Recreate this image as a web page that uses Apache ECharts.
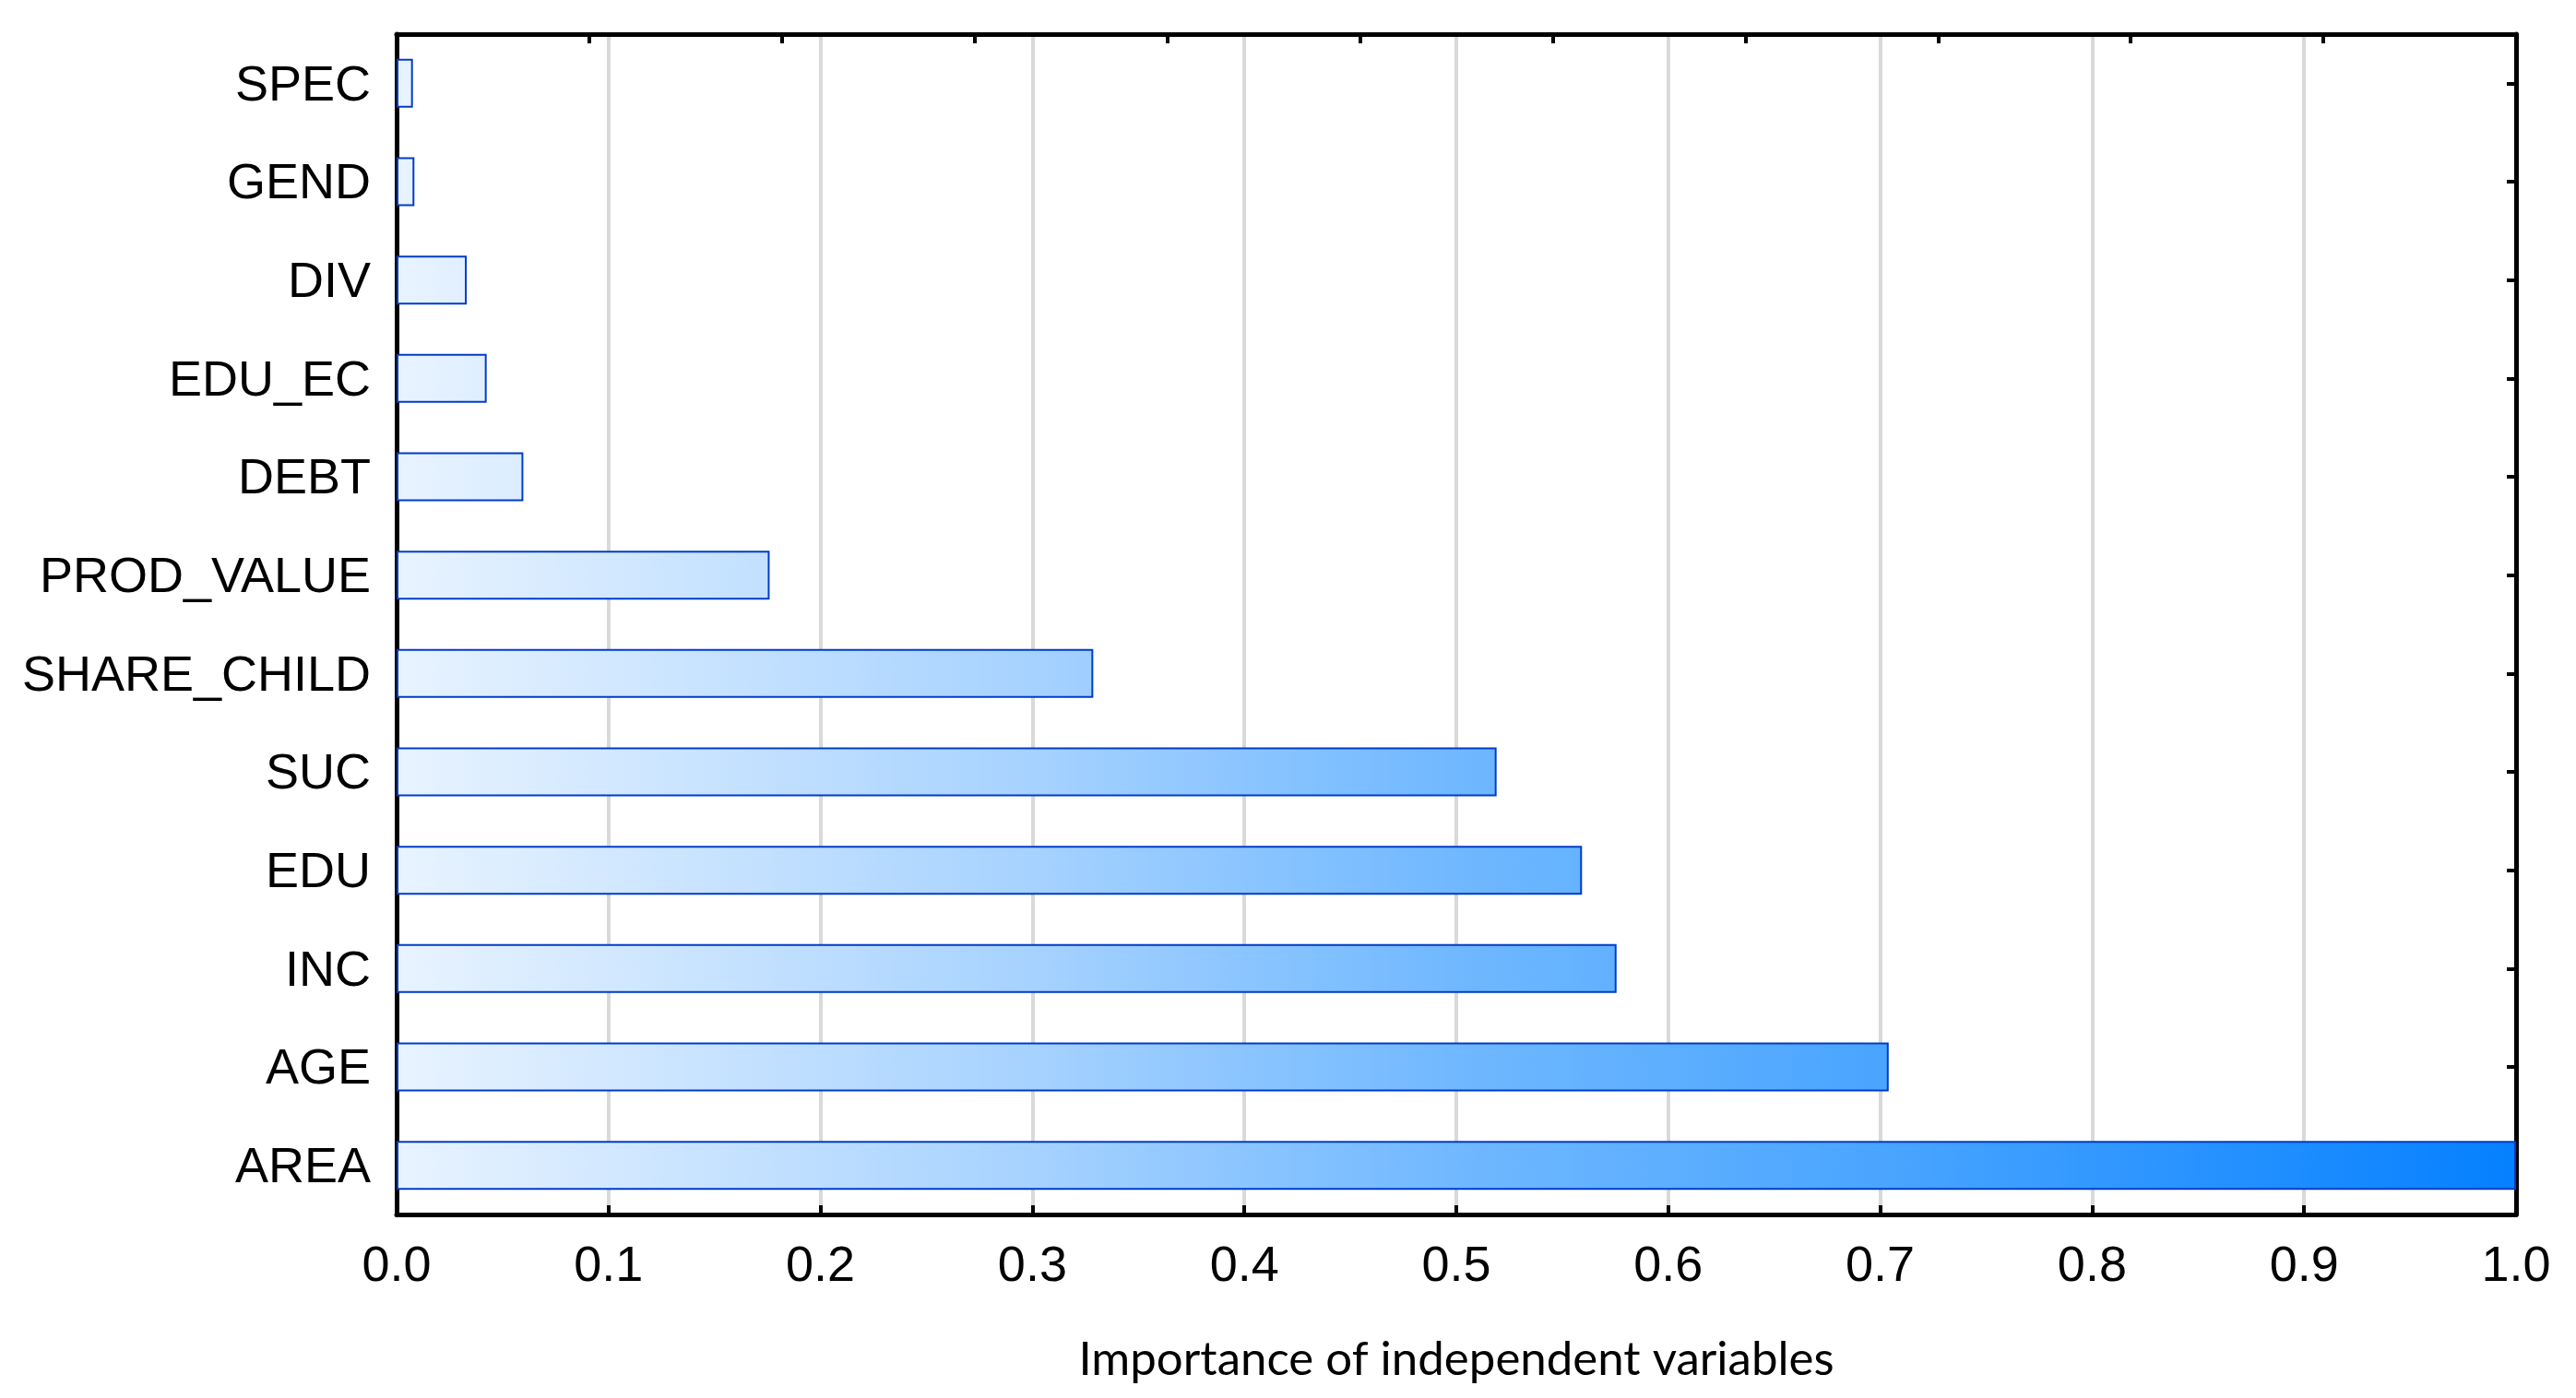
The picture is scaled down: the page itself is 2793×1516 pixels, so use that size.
<!DOCTYPE html>
<html>
<head>
<meta charset="utf-8">
<script src="https://cdn.jsdelivr.net/npm/echarts@6/dist/echarts.min.js"></script>
<style>
html,body{margin:0;padding:0;background:#fff;}
#chart{width:2793px;height:1516px;}
</style>
</head>
<body>
<div id="chart"></div>
<script>
const categories = ["SPEC","GEND","DIV","EDU_EC","DEBT","PROD_VALUE","SHARE_CHILD","SUC","EDU","INC","AGE","AREA"];
const importance = [0.0077,0.0084,0.0331,0.0425,0.0598,0.176,0.3287,0.519,0.5593,0.5756,0.704,1.0];
const xTicks = ["0.0","0.1","0.2","0.3","0.4","0.5","0.6","0.7","0.8","0.9","1.0"];
const axisTitle = "Importance of independent variables";

const W = 2793, H = 1516;
const G = {left: 430, right: 65, top: 37, bottom: 199};
const chart = echarts.init(document.getElementById('chart'), null, {renderer: 'canvas'});

const grad = new echarts.graphic.LinearGradient(G.left, 0, W - G.right, 0, [
  {offset: 0, color: '#e8f3ff'},
  {offset: 0.3, color: '#a6d2ff'},
  {offset: 0.5, color: '#70b8ff'},
  {offset: 0.7, color: '#4aa5ff'},
  {offset: 1, color: '#0580ff'}
], true);

const axisLine = {show: true, onZero: false, lineStyle: {color: '#000', width: 5}};
const axisTick = {show: true, inside: true, length: 10, lineStyle: {color: '#000', width: 4}};

chart.setOption({
  animation: false,
  backgroundColor: '#fff',
  grid: {left: G.left, right: G.right, top: G.top, bottom: G.bottom, containLabel: false},
  xAxis: [{
    type: 'value', position: 'bottom', min: 0, max: 1, interval: 0.1,
    axisLine: axisLine, axisTick: axisTick,
    axisLabel: {
      margin: 30, color: '#000', fontFamily: 'Liberation Sans, Arial', fontSize: 54,
      formatter: function (v) { return xTicks[Math.round(v * 10)]; }
    },
    splitLine: {show: true, lineStyle: {color: '#d9d9d9', width: 4}},
    name: axisTitle, nameLocation: 'middle', nameGap: 132,
    nameTextStyle: {color: '#000', fontFamily: 'Lato', fontSize: 51}
  }, {
    type: 'value', position: 'top', min: 0, max: 1.1, interval: 0.1,
    axisLine: axisLine, axisTick: axisTick, axisLabel: {show: false}, splitLine: {show: false}
  }],
  yAxis: [{
    type: 'category', data: categories, inverse: true, position: 'left',
    axisLine: axisLine,
    axisTick: Object.assign({alignWithLabel: true}, axisTick),
    axisLabel: {
      margin: 28,
      formatter: function (v) { return '{c|' + v + '}'; },
      rich: {c: {color: '#000', fontFamily: 'Liberation Sans, Arial', fontSize: 54, padding: [7, 0, 0, 0]}}
    },
    splitLine: {show: false}
  }, {
    type: 'category', data: categories, inverse: true, position: 'right',
    axisLine: axisLine,
    axisTick: Object.assign({alignWithLabel: true}, axisTick),
    axisLabel: {show: false}, splitLine: {show: false}
  }],
  series: [{
    type: 'bar', xAxisIndex: 0, yAxisIndex: 0,
    data: importance, barWidth: 53,
    itemStyle: {color: grad, borderColor: '#003cc8', borderWidth: 2}
  }]
});
</script>
</body>
</html>
